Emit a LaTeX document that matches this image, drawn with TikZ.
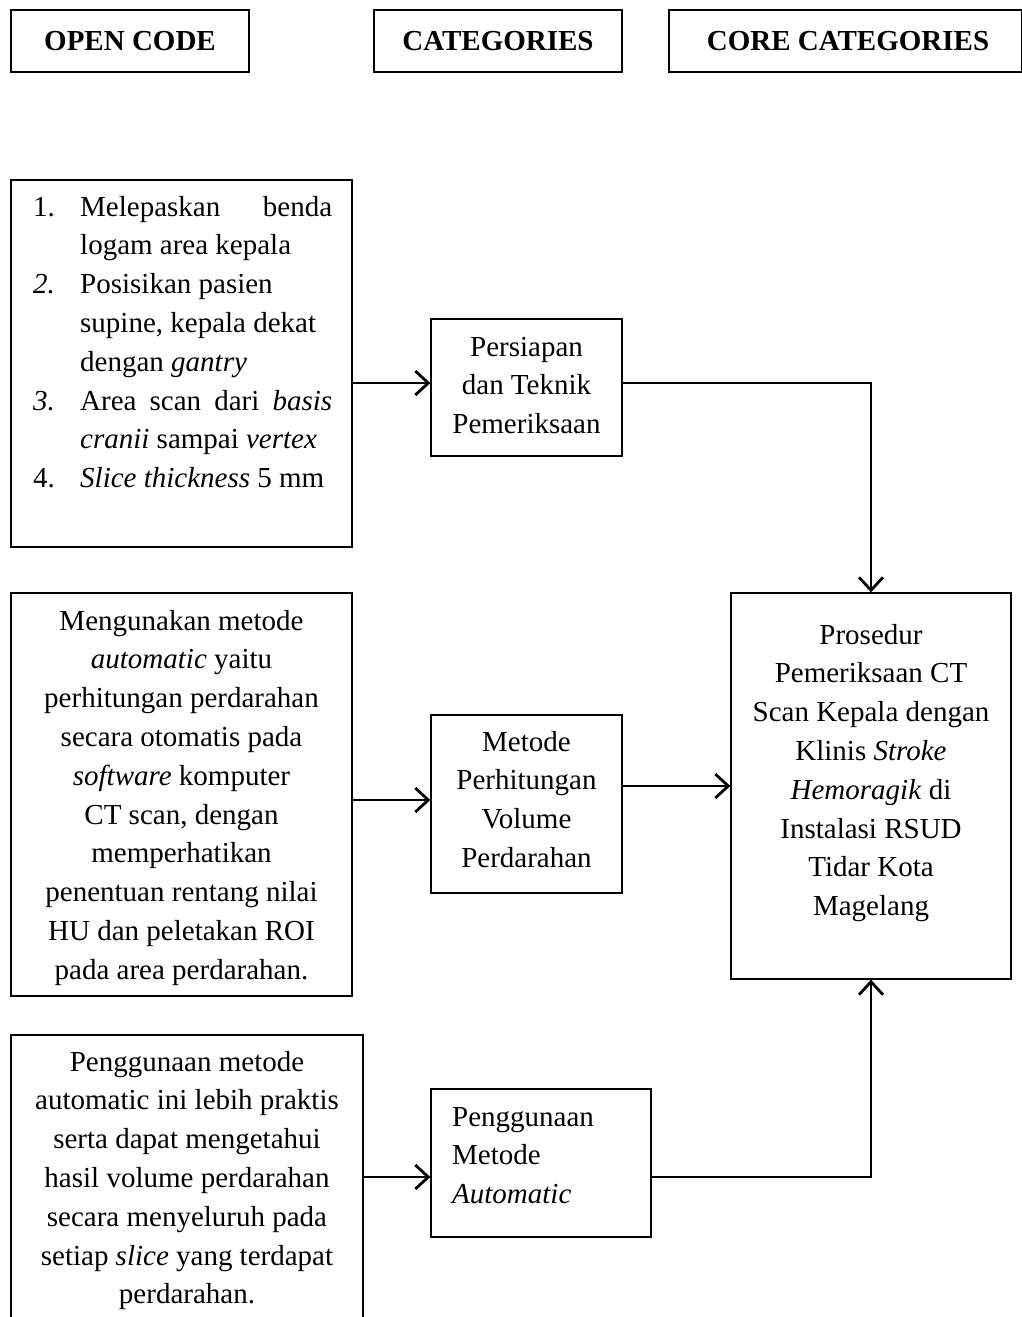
\documentclass[tikz,border=0pt]{standalone}
\usepackage{fontspec}
\setmainfont{Liberation Serif}
\usetikzlibrary{arrows.meta}
\tikzset{
  box/.style={draw, line width=1.3pt, inner sep=0pt, minimum width=#1},
  box/.default=10pt,
  txt/.style={inner sep=0pt, font=\fontsize{29}{38.8}\selectfont},
  conn/.style={line width=2.8pt, -{Straight Barb[length=13pt,width=24pt]}}
}
\begin{document}
\begin{tikzpicture}[x=1pt,y=-1pt]
\useasboundingbox (0,0) rectangle (1021,1317);
% header boxes
\node[box=238pt, minimum height=62pt] (hOpen) at (130,41) {};
\node[box=248pt, minimum height=62pt] (hCat) at (498,41) {};
\node[box=353pt, minimum height=62pt] (hCore) at (845.5,41) {};
\node[txt, anchor=base, font=\fontsize{29}{38.8}\selectfont\bfseries] (tOpen) at (130,50) {OPEN CODE};
\node[txt, anchor=base, font=\fontsize{29}{38.8}\selectfont\bfseries] (tCat) at (498,50) {CATEGORIES};
\node[txt, anchor=base, font=\fontsize{29}{38.8}\selectfont\bfseries] (tCore) at (848,50) {CORE CATEGORIES};
% boxes
\node[box=341pt, minimum height=367pt] (A) at (181.5,363.5) {};
\node[box=191pt, minimum height=137pt] (P) at (526.5,387.5) {};
\node[box=280pt, minimum height=386pt] (Core) at (871,786) {};
\node[box=341pt, minimum height=403pt] (B) at (181.5,794.5) {};
\node[box=191pt, minimum height=178pt] (M) at (526.5,804) {};
\node[box=352pt, minimum height=305pt] (C) at (187,1187.5) {};
\node[box=220pt, minimum height=148pt] (Pg) at (541,1163) {};
% texts
\node[txt, anchor=base west] (Atxt) at (33,216) {\begin{tabular}[t]{@{}l@{}l@{}}
\makebox[47pt][l]{1.} & \makebox[252pt][s]{Melepaskan\hfill benda}\\
 & logam area kepala\\
\makebox[47pt][l]{\textit{2.}} & Posisikan pasien\\
 & supine, kepala dekat\\
 & dengan \textit{gantry}\\
\makebox[47pt][l]{\textit{3.}} & \makebox[252pt][s]{Area\hfill scan\hfill dari\hfill \textit{basis}}\\
 & \textit{cranii} sampai \textit{vertex}\\
\makebox[47pt][l]{4.} & \textit{Slice thickness} 5 mm
\end{tabular}};
\node[txt, anchor=base] (Ptxt) at (526.5,356) {\begin{tabular}[t]{@{}c@{}}
Persiapan\\ dan Teknik\\ Pemeriksaan\end{tabular}};
\node[txt, anchor=base] (Btxt) at (181.5,630) {\begin{tabular}[t]{@{}c@{}}
Mengunakan metode\\
\textit{automatic} yaitu\\
perhitungan perdarahan\\
secara otomatis pada\\
\textit{software} komputer\\
CT scan, dengan\\
memperhatikan\\
penentuan rentang nilai\\
HU dan peletakan ROI\\
pada area perdarahan.\end{tabular}};
\node[txt, anchor=base] (Mtxt) at (526.5,751) {\begin{tabular}[t]{@{}c@{}}
Metode\\ Perhitungan\\ Volume\\ Perdarahan\end{tabular}};
\node[txt, anchor=base] (Coretxt) at (871,644) {\begin{tabular}[t]{@{}c@{}}
Prosedur\\
Pemeriksaan CT\\
Scan Kepala dengan\\
Klinis \textit{Stroke}\\
\textit{Hemoragik} di\\
Instalasi RSUD\\
Tidar Kota\\
Magelang\end{tabular}};
\node[txt, anchor=base] (Ctxt) at (187,1071) {\begin{tabular}[t]{@{}c@{}}
Penggunaan metode\\
automatic ini lebih praktis\\
serta dapat mengetahui\\
hasil volume perdarahan\\
secara menyeluruh pada\\
setiap \textit{slice} yang terdapat\\
perdarahan.\end{tabular}};
\node[txt, anchor=base west] (Pgtxt) at (452,1126) {\begin{tabular}[t]{@{}l@{}}
Penggunaan\\ Metode\\ \textit{Automatic}\end{tabular}};
% connectors
\coordinate (pin) at ([yshift=4.5pt]P.west);
\coordinate (pout) at ([yshift=4.5pt]P.east);
\draw[conn] (A.east |- pin) -- (pin);
\draw[conn] (pout) -| (Core.north);
\coordinate (min) at (M.west |- 0,800);
\draw[conn] (B.east |- min) -- (min);
\draw[conn] (M.east |- Core.west) -- (Core.west);
\coordinate (pgin) at ([yshift=-14pt]Pg.west);
\draw[conn] (C.east |- pgin) -- (pgin);
\draw[conn] (Pg.east |- pgin) -| (Core.south);
\end{tikzpicture}
\end{document}
